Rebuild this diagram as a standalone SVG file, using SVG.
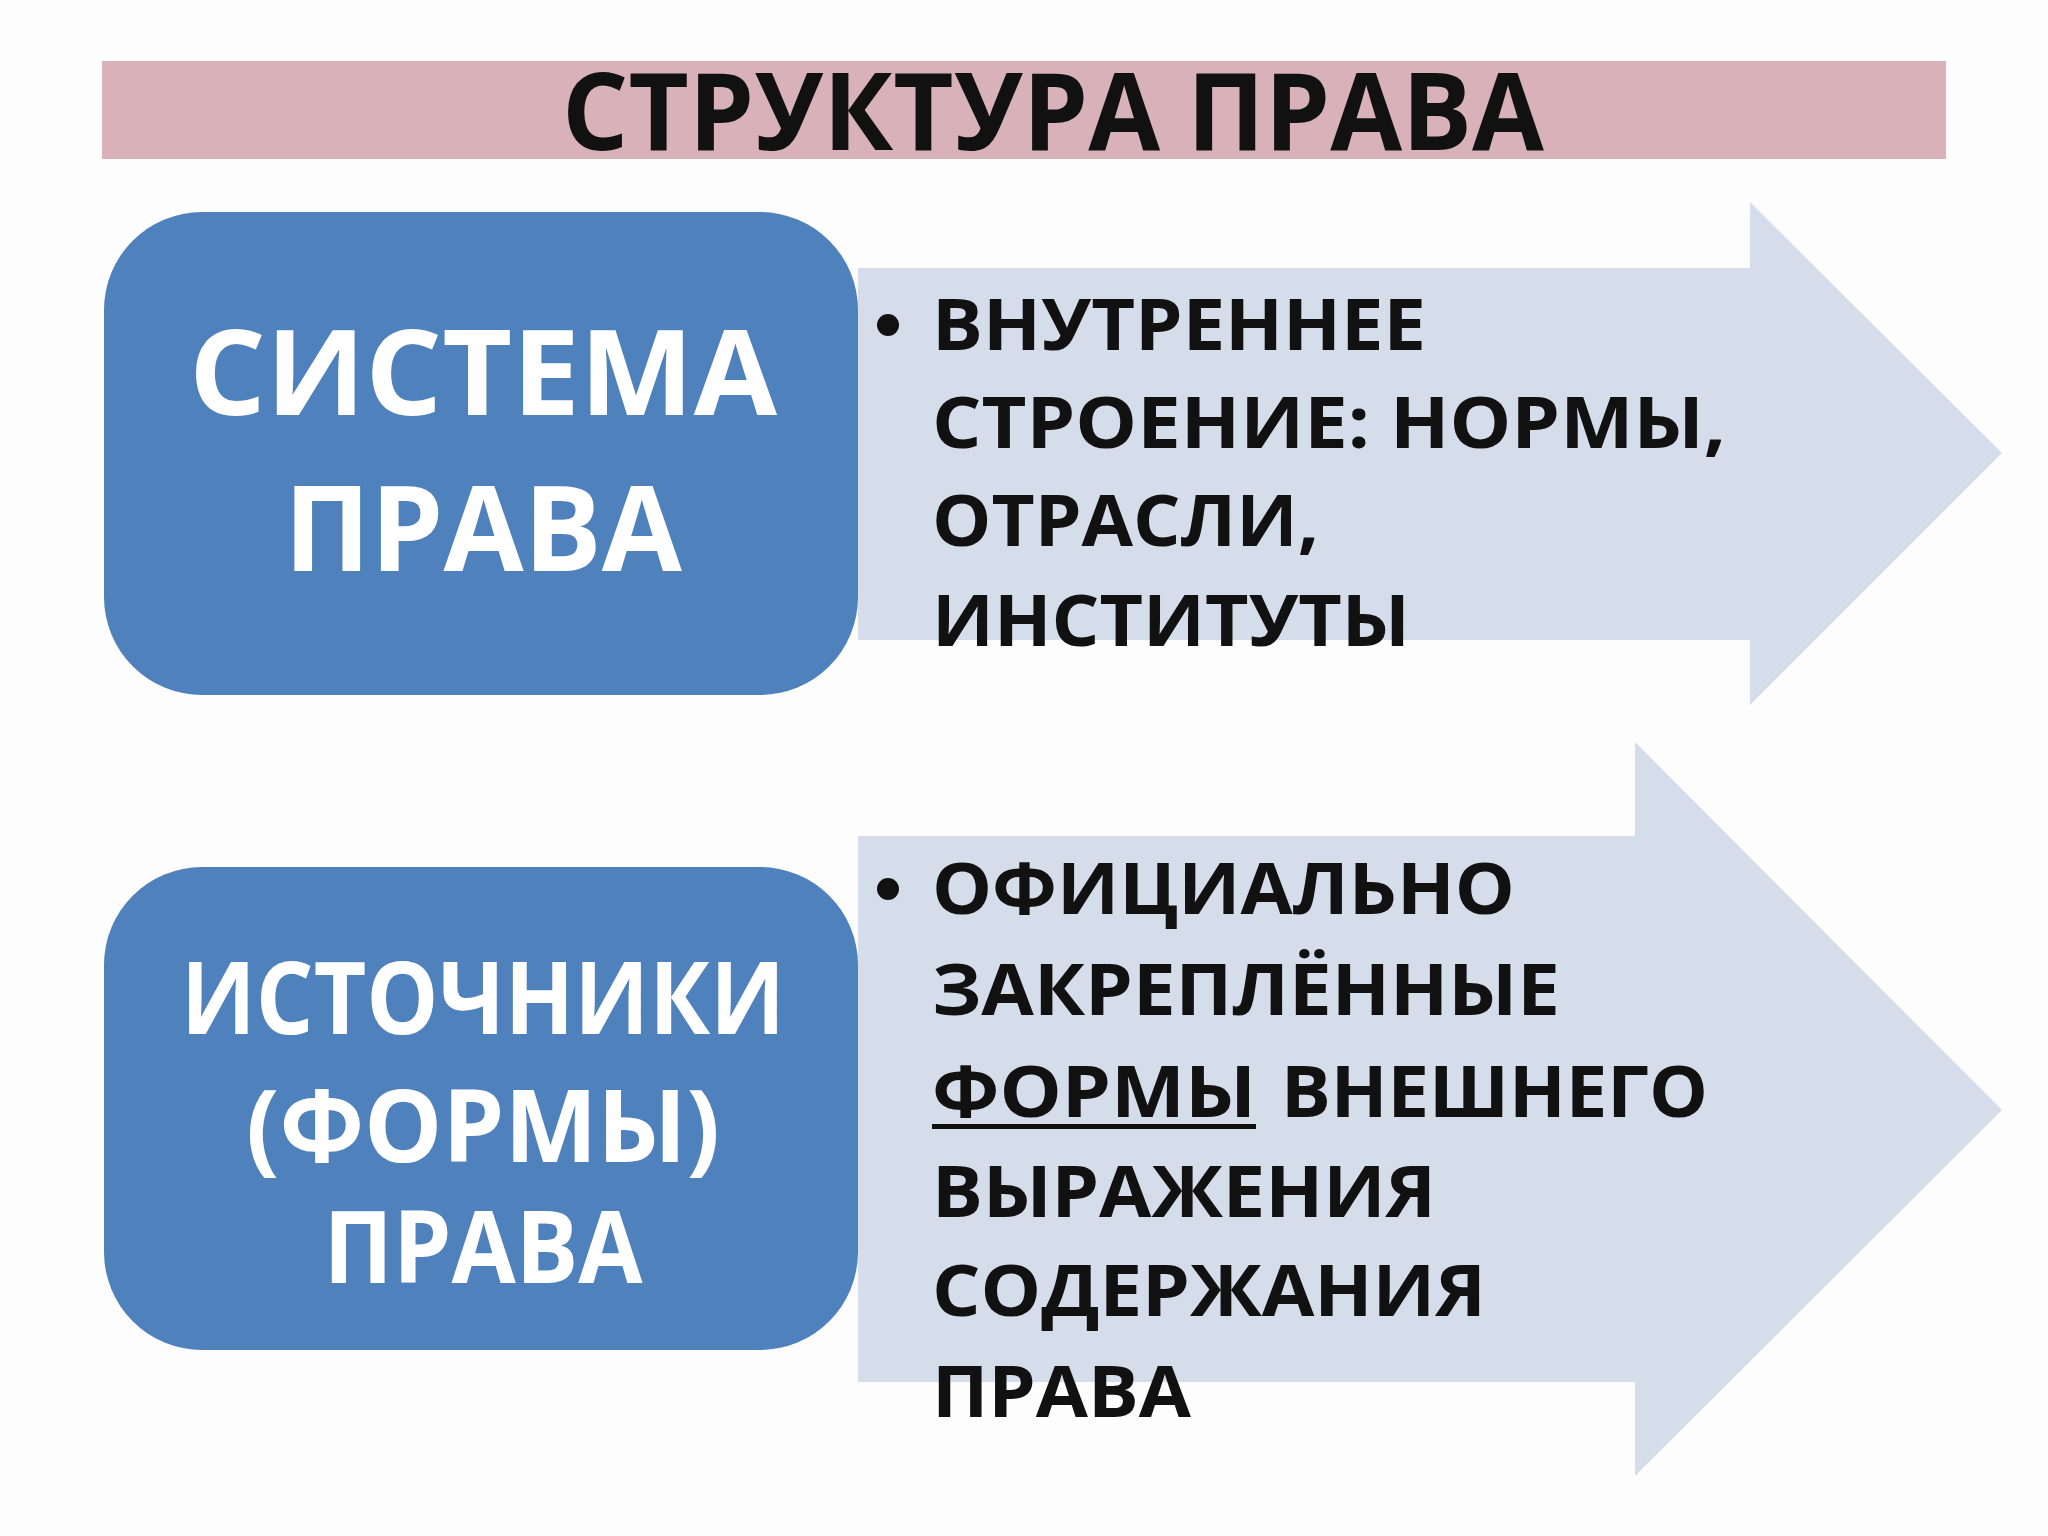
<svg xmlns="http://www.w3.org/2000/svg" width="2048" height="1536" viewBox="0 0 2048 1536">
<style>
.t{font-family:"Open Sans","Noto Sans","DejaVu Sans",sans-serif;font-weight:bold}
.w{fill:#fff;text-anchor:middle}
.b{fill:#111;font-size:72px}
.arrow{fill:#d5dcea}
.box{fill:#4f81bd}
</style>
<rect width="2048" height="1536" fill="#fdfdfd"/>
<g id="title">
<rect x="102" y="61" width="1844" height="98" fill="#d8b2b8"/>
<text class="t" x="562" y="150" font-size="108" fill="#111" textLength="982" lengthAdjust="spacingAndGlyphs">СТРУКТУРА ПРАВА</text>
</g>
<g id="connectors">
<polygon class="arrow" points="858,268 1750,268 1750,202 2002,453 1750,705 1750,640 858,640"/>
<polygon class="arrow" points="858,836 1635,836 1635,742 2002,1110 1635,1476 1635,1382 858,1382"/>
</g>
<g id="node-system">
<rect class="box" x="104" y="212" width="754" height="483" rx="98"/>
<text class="t w" x="483" y="415" font-size="118" textLength="588" lengthAdjust="spacingAndGlyphs">СИСТЕМА</text>
<text class="t w" x="483" y="571" font-size="118" textLength="398" lengthAdjust="spacingAndGlyphs">ПРАВА</text>
</g>
<g id="node-system-text">
<circle cx="888" cy="325" r="11" fill="#111"/>
<text class="t b" x="932" y="350" textLength="494" lengthAdjust="spacingAndGlyphs">ВНУТРЕННЕЕ</text>
<text class="t b" x="932" y="448" textLength="794" lengthAdjust="spacingAndGlyphs">СТРОЕНИЕ: НОРМЫ,</text>
<text class="t b" x="932" y="546" textLength="387" lengthAdjust="spacingAndGlyphs">ОТРАСЛИ,</text>
<text class="t b" x="932" y="646" textLength="478" lengthAdjust="spacingAndGlyphs">ИНСТИТУТЫ</text>
</g>
<g id="node-sources">
<rect class="box" x="104" y="867" width="754" height="483" rx="98"/>
<text class="t w" x="483" y="1034" font-size="100" textLength="604" lengthAdjust="spacingAndGlyphs">ИСТОЧНИКИ</text>
<text class="t w" x="483" y="1162" font-size="100" textLength="474" lengthAdjust="spacingAndGlyphs">(ФОРМЫ)</text>
<text class="t w" x="483" y="1283" font-size="100" textLength="319" lengthAdjust="spacingAndGlyphs">ПРАВА</text>
</g>
<g id="node-sources-text">
<circle cx="888" cy="889" r="11" fill="#111"/>
<text class="t b" x="932" y="914" textLength="583" lengthAdjust="spacingAndGlyphs">ОФИЦИАЛЬНО</text>
<text class="t b" x="932" y="1015" textLength="628" lengthAdjust="spacingAndGlyphs">ЗАКРЕПЛЁННЫЕ</text>
<text class="t b" x="932" y="1117" textLength="324" lengthAdjust="spacingAndGlyphs">ФОРМЫ</text>
<rect x="932" y="1124" width="324" height="5" fill="#111"/>
<text class="t b" x="1281" y="1117" textLength="427" lengthAdjust="spacingAndGlyphs">ВНЕШНЕГО</text>
<text class="t b" x="932" y="1217" textLength="504" lengthAdjust="spacingAndGlyphs">ВЫРАЖЕНИЯ</text>
<text class="t b" x="932" y="1316" textLength="554" lengthAdjust="spacingAndGlyphs">СОДЕРЖАНИЯ</text>
<text class="t b" x="932" y="1417" textLength="259" lengthAdjust="spacingAndGlyphs">ПРАВА</text>
</g>
</svg>
